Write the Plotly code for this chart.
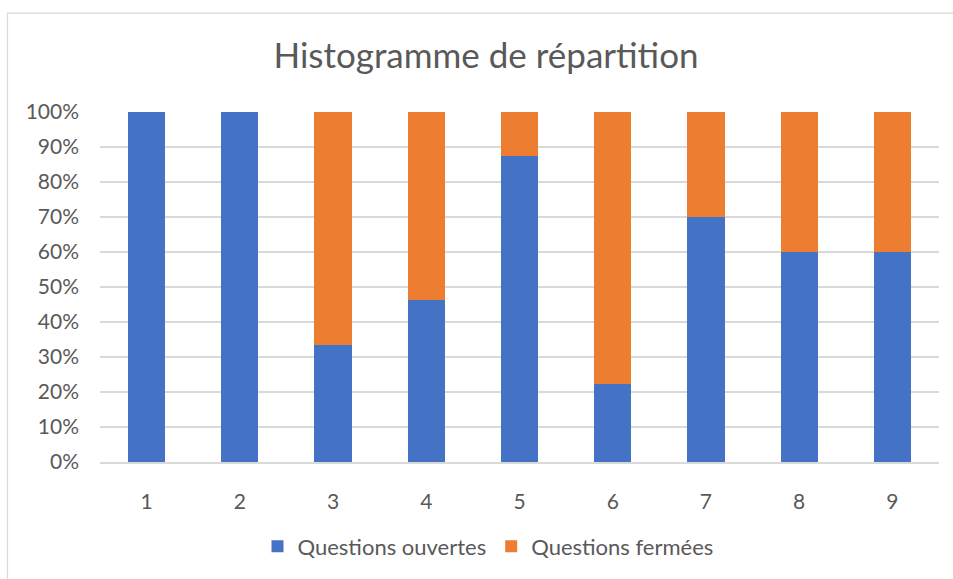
import plotly.graph_objects as go

categories = ["1", "2", "3", "4", "5", "6", "7", "8", "9"]
ouvertes = [1.0, 1.0, 0.333, 0.462, 0.875, 0.222, 0.70, 0.60, 0.60]
fermees = [0.0, 0.0, 0.667, 0.538, 0.125, 0.778, 0.30, 0.40, 0.40]
y_ticks = [0, 0.1, 0.2, 0.3, 0.4, 0.5, 0.6, 0.7, 0.8, 0.9, 1.0]

FONT = "Lato"
TXT = "#595959"
GRID = "#d9d9d9"

W, H = 953, 579
L, R, T, B = 100, 14, 112, 115

fig = go.Figure()
fig.add_trace(go.Bar(x=categories, y=ouvertes, name="Questions ouvertes",
                     marker=dict(color="#4472C4", line=dict(width=0))))
fig.add_trace(go.Bar(x=categories, y=fermees, name="Questions fermées",
                     marker=dict(color="#ED7D31", line=dict(width=0))))

pw = W - L - R
ph = H - T - B

def px_x(p):
    return (p - L) / pw

def px_y(p):
    return (H - B - p) / ph

fig.update_layout(
    width=W, height=H,
    margin=dict(l=L, r=R, t=T, b=B),
    barmode="stack",
    bargap=0.6,
    paper_bgcolor="white",
    plot_bgcolor="white",
    font=dict(family=FONT, color=TXT, size=22),
    title=dict(text="Histogramme de répartition", x=486 / W, xref="container", xanchor="center",
               y=1 - 56 / H, yref="container", yanchor="middle",
               font=dict(family=FONT, size=35, color=TXT)),
    legend=dict(orientation="h", x=px_x(488), xanchor="center", y=px_y(549), yanchor="middle",
                font=dict(family=FONT, size=22, color=TXT), traceorder="normal",
                itemwidth=30, bgcolor="rgba(0,0,0,0)"),
    xaxis=dict(showgrid=False, showline=True, linecolor=GRID, linewidth=1.5, ticks="",
               ticklabelstandoff=20, tickfont=dict(family=FONT, size=21, color=TXT)),
    yaxis=dict(range=[0, 1], tickvals=y_ticks, tickformat=".0%", showgrid=True, gridcolor=GRID,
               gridwidth=1.5, zeroline=False, showline=False, ticks="", ticklabelstandoff=20,
               tickfont=dict(family=FONT, size=21, color=TXT)),
    showlegend=True,
    shapes=[dict(type="rect", xref="paper", yref="paper",
                 x0=px_x(7.5), x1=px_x(W + 20), y0=px_y(H + 20), y1=px_y(12.5),
                 line=dict(color="#d9d9d9", width=1.2), fillcolor="rgba(0,0,0,0)", layer="below")],
)

fig.write_html("out.html", config={"displayModeBar": False},
               post_script="document.body.style.margin='0';document.body.style.overflow='hidden';")
